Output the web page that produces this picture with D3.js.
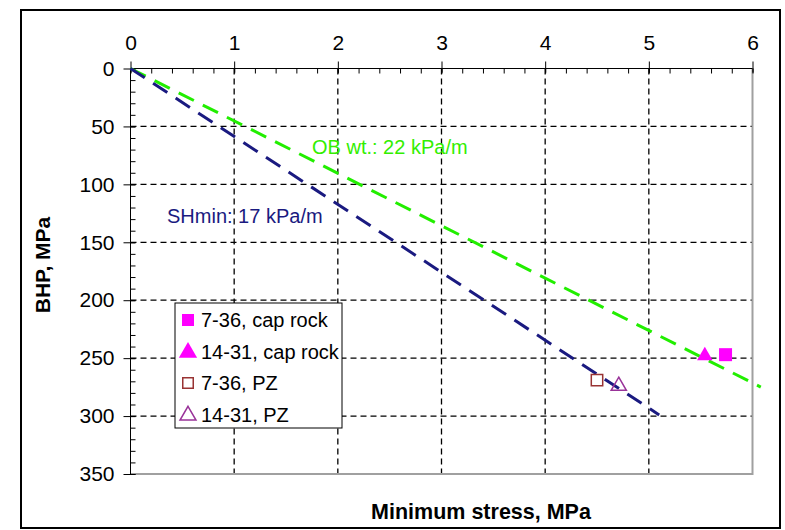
<!DOCTYPE html>
<html>
<head>
<meta charset="utf-8">
<script src="https://cdn.jsdelivr.net/npm/d3@7"></script>
<style>
  body { margin: 0; background: #fff; }
  svg { font-family: "Liberation Sans", Arial, sans-serif; }
</style>
</head>
<body>
<div class="content-container"></div>
<script>
// data
const xTicks = [0, 1, 2, 3, 4, 5, 6];
const yTicks = [0, 50, 100, 150, 200, 250, 300, 350];
const obLine = [[0, 0], [6.08, 275]];      // OB wt.: 22 kPa/m
const shLine = [[0, 0], [5.1, 299]];       // SHmin: 17 kPa/m
const capRock736 = [[5.74, 247]];
const capRock1431 = [[5.54, 248]];
const pz736 = [[4.50, 269]];
const pz1431 = [[4.71, 274]];
const legendLabels = ["7-36, cap rock", "14-31, cap rock", "7-36, PZ", "14-31, PZ"];

const width = 785;
const height = 530;

const svg = d3.select(".content-container")
  .append("svg")
  .attr("width", width)
  .attr("height", height);

// outer frame
svg.append("rect")
  .attr("x", 21).attr("y", 10)
  .attr("width", 759).attr("height", 518)
  .attr("fill", "none")
  .attr("stroke", "#000")
  .attr("stroke-width", 2);

//SCALES
const xScale = d3.scaleLinear().domain([0, 6]).range([130.5, 752.5]);
const yScale = d3.scaleLinear().domain([0, 350]).range([68.5, 474]);

//GRID
svg.append("g").selectAll("line")
  .data(xTicks.slice(1, -1))
  .enter().append("line")
  .attr("x1", d => xScale(d)).attr("x2", d => xScale(d))
  .attr("y1", yScale(0)).attr("y2", yScale(350))
  .attr("stroke", "#000").attr("stroke-width", 1.3)
  .attr("stroke-dasharray", "6,4");

svg.append("g").selectAll("line")
  .data(yTicks.slice(1, -1))
  .enter().append("line")
  .attr("x1", xScale(0)).attr("x2", xScale(6))
  .attr("y1", d => yScale(d)).attr("y2", d => yScale(d))
  .attr("stroke", "#000").attr("stroke-width", 1.3)
  .attr("stroke-dasharray", "6,4");

// right and bottom plot border (grey)
svg.append("path")
  .attr("d", "M" + xScale(6) + "," + yScale(0) + "V" + yScale(350) + "H" + xScale(0))
  .attr("fill", "none")
  .attr("stroke", "#a0a0a0")
  .attr("stroke-width", 2);

//AXES
const xMinor = d3.axisTop(xScale).ticks(30).tickSize(-5).tickFormat("");
svg.append("g")
  .attr("transform", "translate(0," + yScale(0) + ")")
  .call(xMinor)
  .call(g => g.select(".domain").remove());

const xAxis = d3.axisTop(xScale).tickValues(xTicks).tickSize(7).tickPadding(12).tickFormat(d3.format("d"));
svg.append("g")
  .attr("transform", "translate(0," + yScale(0) + ")")
  .call(xAxis)
  .call(g => g.select(".domain").attr("d", "M" + xScale(0) + ",0H" + xScale(6)))
  .call(g => g.selectAll(".tick line").attr("y2", -7).attr("y1", 4))
  .call(g => g.selectAll("text").style("font-size", "21px").attr("fill", "#000"));

const yMinor = d3.axisLeft(yScale).ticks(35).tickSize(-5).tickFormat("");
svg.append("g")
  .attr("transform", "translate(" + xScale(0) + ",0)")
  .call(yMinor)
  .call(g => g.select(".domain").remove());

const yAxis = d3.axisLeft(yScale).tickValues(yTicks).tickSize(7).tickPadding(9);
svg.append("g")
  .attr("transform", "translate(" + xScale(0) + ",0)")
  .call(yAxis)
  .call(g => g.select(".domain").attr("d", "M0," + yScale(0) + "V" + yScale(350)))
  .call(g => g.selectAll(".tick line").attr("x1", 5))
  .call(g => g.selectAll("text").style("font-size", "21px").attr("fill", "#000"));

// axis titles
svg.append("text")
  .attr("x", 481).attr("y", 519)
  .attr("text-anchor", "middle")
  .style("font-size", "21.5px").style("font-weight", "bold")
  .text("Minimum stress, MPa");

svg.append("text")
  .attr("transform", "translate(50,265) rotate(-90)")
  .attr("text-anchor", "middle")
  .style("font-size", "21px").style("font-weight", "bold")
  .text("BHP, MPa");

//LINES
const line = d3.line().x(d => xScale(d[0])).y(d => yScale(d[1]));

svg.append("path")
  .datum(obLine)
  .attr("d", line)
  .attr("fill", "none")
  .attr("stroke", "#22ee00")
  .attr("stroke-width", 3)
  .attr("stroke-dasharray", "17,10");

svg.append("path")
  .datum(shLine)
  .attr("d", line)
  .attr("fill", "none")
  .attr("stroke", "#1a1a80")
  .attr("stroke-width", 3)
  .attr("stroke-dasharray", "17,10");

svg.append("text")
  .attr("x", 312).attr("y", 154)
  .attr("fill", "#33ee00")
  .style("font-size", "20px")
  .text("OB wt.: 22 kPa/m");

svg.append("text")
  .attr("x", 167).attr("y", 223)
  .attr("fill", "#1a1a80")
  .style("font-size", "20px")
  .text("SHmin: 17 kPa/m");

//POINTS
const series = [
  { data: capRock736, type: d3.symbolSquare, size: 169, fill: "#ff00ff", stroke: "none" },
  { data: capRock1431, type: d3.symbolTriangle, size: 105, fill: "#ff00ff", stroke: "none" },
  { data: pz736, type: d3.symbolSquare, size: 130, fill: "none", stroke: "#993333" },
  { data: pz1431, type: d3.symbolTriangle, size: 100, fill: "none", stroke: "#993399" }
];

series.forEach(function (s) {
  svg.append("g").selectAll("path")
    .data(s.data)
    .enter().append("path")
    .attr("transform", d => "translate(" + xScale(d[0]) + "," + yScale(d[1]) + ")")
    .attr("d", d3.symbol().type(s.type).size(s.size))
    .attr("fill", s.fill)
    .attr("stroke", s.stroke)
    .attr("stroke-width", 1.5);
});

//LEGEND
const legend = svg.append("g").attr("transform", "translate(175,303)");
legend.append("rect")
  .attr("width", 167).attr("height", 125)
  .attr("fill", "#fff")
  .attr("stroke", "#000")
  .attr("stroke-width", 1);

const rows = legend.selectAll("g.row")
  .data(series)
  .enter().append("g")
  .attr("class", "row")
  .attr("transform", (d, i) => "translate(0," + (17 + i * 31.5) + ")");

rows.append("path")
  .attr("transform", (d, i) => "translate(13," + (i % 2 ? 1 : 0) + ")")
  .attr("d", (d, i) => d3.symbol().type(d.type).size(i < 2 ? 144 : 110)())
  .attr("fill", d => d.fill)
  .attr("stroke", d => d.stroke)
  .attr("stroke-width", 1.5);

rows.append("text")
  .attr("x", 26).attr("y", 7)
  .style("font-size", "20px")
  .attr("fill", "#000")
  .text((d, i) => legendLabels[i]);
</script>
</body>
</html>
